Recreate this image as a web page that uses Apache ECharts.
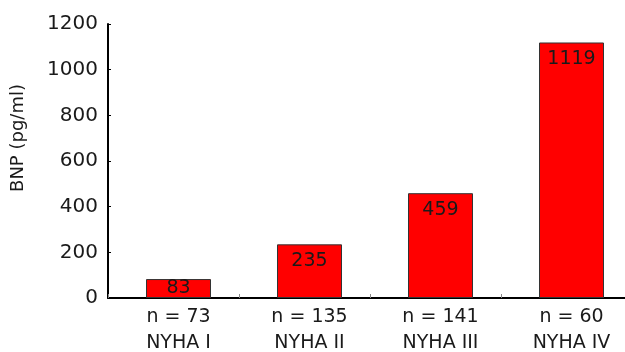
<!DOCTYPE html>
<html>
<head>
<meta charset="utf-8">
<script src="https://cdn.jsdelivr.net/npm/echarts@6/dist/echarts.min.js"></script>
<style>
  html, body { margin: 0; padding: 0; background: #ffffff; }
  #chart { width: 625px; height: 352px; }
</style>
</head>
<body>
<div id="chart"></div>
<script>
// NYHA functional classes, patient counts and mean BNP concentration
const classes = ['NYHA I', 'NYHA II', 'NYHA III', 'NYHA IV'];
const patientCounts = [73, 135, 141, 60];
const bnpValues = [83, 235, 459, 1119];
const yTicks = [0, 200, 400, 600, 800, 1000, 1200];

const FONT = '"DejaVu Sans", sans-serif';
const INK = '#1a1a1a';

const chart = echarts.init(document.getElementById('chart'), null, { renderer: 'canvas' });

const categoryLabels = classes.map((c, i) => 'n = ' + patientCounts[i] + '\n' + c);

chart.setOption({
  animation: false,
  backgroundColor: '#ffffff',
  grid: [
    // frame: axis lines and ticks
    { left: 108, right: -7, top: 24, bottom: 54, outerBoundsMode: 'none', containLabel: false },
    // bars and category labels
    { left: 113, right: -12, top: 24, bottom: 54, outerBoundsMode: 'none', containLabel: false }
  ],
  xAxis: [
    {
      type: 'category', gridIndex: 0, data: classes,
      axisLine: { lineStyle: { color: '#000', width: 2 } },
      axisTick: { show: true, inside: true, length: 4, lineStyle: { color: '#888', width: 1 } },
      axisLabel: { show: false }
    },
    {
      type: 'category', gridIndex: 1, data: categoryLabels,
      axisLine: { show: false },
      axisTick: { show: false },
      axisLabel: {
        margin: 6, color: INK, fontFamily: FONT, fontSize: 19, lineHeight: 26, align: 'center'
      }
    }
  ],
  yAxis: [
    {
      type: 'value', gridIndex: 0, min: yTicks[0], max: yTicks[yTicks.length - 1], interval: 200,
      axisLine: { show: true, lineStyle: { color: '#000', width: 2 } },
      axisTick: { show: true, inside: true, length: 3, lineStyle: { color: '#000', width: 1 } },
      axisLabel: {
        margin: 10, color: INK, fontFamily: FONT, fontSize: 20,
        formatter: v => String(v)
      },
      splitLine: { show: false }
    },
    {
      type: 'value', gridIndex: 1, min: yTicks[0], max: yTicks[yTicks.length - 1], interval: 200,
      show: false, splitLine: { show: false }
    }
  ],
  graphic: [
    {
      type: 'text', x: 18, y: 138, rotation: Math.PI / 2,
      style: {
        text: 'BNP (pg/ml)', fill: INK, font: '18px ' + FONT,
        align: 'center', verticalAlign: 'middle'
      }
    }
  ],
  series: [
    {
      type: 'bar', xAxisIndex: 1, yAxisIndex: 1, barWidth: 65,
      itemStyle: { color: '#ff0000', borderColor: '#333', borderWidth: 1 },
      label: {
        show: true, position: 'insideTop', distance: 7,
        color: INK, fontFamily: FONT, fontSize: 19
      },
      // short bars keep their value centred inside the bar
      data: bnpValues.map(v => v < 150
        ? { value: v, label: { position: 'inside' } }
        : v)
    }
  ]
});
</script>
</body>
</html>
